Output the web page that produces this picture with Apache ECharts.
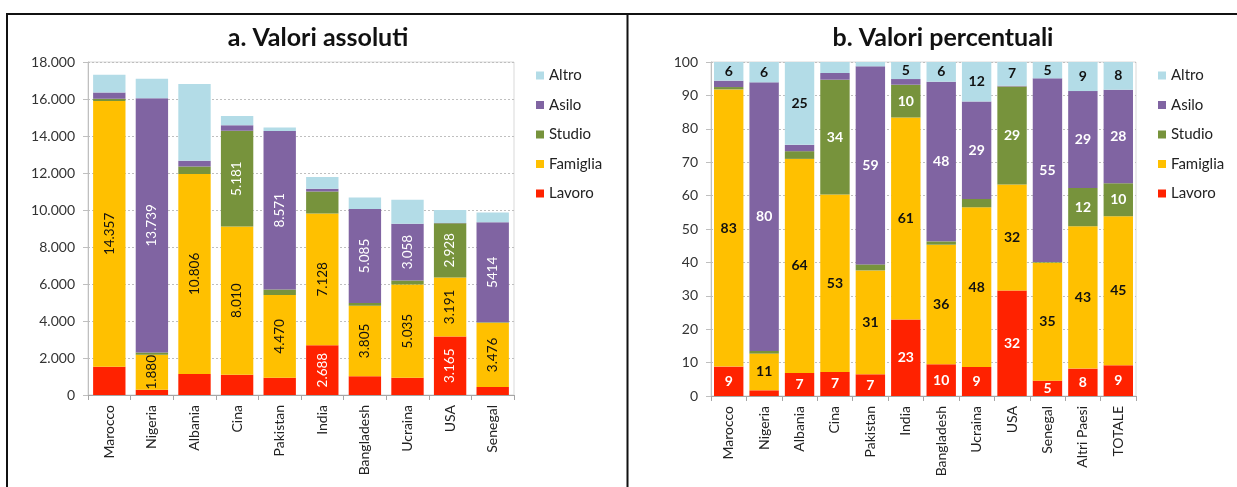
<!DOCTYPE html>
<html lang="it" style="height: 100%">
<head>
  <meta charset="UTF-8" />
  <title>Motivi del permesso</title>
  <script src="https://cdn.jsdelivr.net/npm/echarts@6/dist/echarts.min.js"></script>
</head>
<body style="height: 100%; margin: 0; background: #fff">
  <div id="main" style="width: 1237px; height: 487px"></div>
  <script type="text/javascript">
    // a. valori assoluti
    var catsA = ['Marocco', 'Nigeria', 'Albania', 'Cina', 'Pakistan', 'India', 'Bangladesh', 'Ucraina', 'USA', 'Senegal'];
    var lavoroA = [1530, 290, 1140, 1095, 930, 2688, 1020, 935, 3165, 430];
    var famigliaA = [14357, 1880, 10806, 8010, 4470, 7128, 3805, 5035, 3191, 3476];
    var studioA = [130, 130, 400, 5181, 300, 1187, 145, 225, 2928, 20];
    var asiloA = [330, 13739, 320, 290, 8571, 145, 5085, 3058, 20, 5414];
    var altroA = [960, 1060, 4140, 500, 190, 630, 620, 1300, 700, 520];
    // etichette come nel grafico originale
    var lblLavoroA = ['', '', '', '', '', '2.688', '', '', '3.165', ''];
    var lblFamigliaA = ['14.357', '1.880', '10.806', '8.010', '4.470', '7.128', '3.805', '5.035', '3.191', '3.476'];
    var lblStudioA = ['', '', '', '5.181', '', '', '', '', '2.928', ''];
    var lblAsiloA = ['', '13.739', '', '', '8.571', '', '5.085', '3.058', '', '5414'];
    var lblAltroA = ['', '', '', '', '', '', '', '', '', ''];

    // b. valori percentuali
    var catsB = ['Marocco', 'Nigeria', 'Albania', 'Cina', 'Pakistan', 'India', 'Bangladesh', 'Ucraina', 'USA', 'Senegal', 'Altri Paesi', 'TOTALE'];
    var lavoroB = [8.8, 1.7, 6.9, 7.2, 6.5, 22.9, 9.5, 8.7, 31.6, 4.6, 8.2, 9.2];
    var famigliaB = [83.0, 11.0, 64.1, 53.1, 31.1, 60.5, 35.8, 47.8, 31.7, 35.3, 42.6, 44.6];
    var studioB = [0.7, 0.8, 2.3, 34.4, 1.8, 9.8, 1.0, 2.5, 29.4, 0.2, 11.5, 9.9];
    var asiloB = [1.9, 80.4, 1.9, 2.0, 59.3, 1.7, 47.8, 29.2, 0.2, 55.0, 29.0, 28.0];
    var altroB = [5.6, 6.1, 24.8, 3.3, 1.3, 5.1, 5.9, 11.8, 7.1, 4.9, 8.7, 8.3];

    var names = ['Lavoro', 'Famiglia', 'Studio', 'Asilo', 'Altro'];
    var colors = ['#FF2200', '#FFC000', '#77933C', '#8064A2', '#B3DCE7'];
    var lblColors = ['#fff', '#111', '#fff', '#fff', '#111'];
    var font = 'Lato, "Open Sans", sans-serif';

    var myChart = echarts.init(document.getElementById('main'));

    function thousands(v) {
      return String(v).replace(/\B(?=(\d{3})+(?!\d))/g, '.');
    }

    function xAxisCfg(cats, idx) {
      return {
        type: 'category', gridIndex: idx, data: cats,
        axisLine: { lineStyle: { color: '#A6A6A6' } },
        axisTick: { show: true, length: 5, lineStyle: { color: '#A6A6A6' } },
        axisLabel: { rotate: 90, margin: 10, fontSize: 14, color: '#222', fontFamily: font }
      };
    }
    function yAxisCfg(idx, max, interval, fmt) {
      return {
        type: 'value', gridIndex: idx, min: 0, max: max, interval: interval,
        axisLine: { show: true, lineStyle: { color: '#BFBFBF' } },
        axisTick: { show: true, length: 5, lineStyle: { color: '#BFBFBF' } },
        axisLabel: { margin: 13, fontSize: 14, color: '#333', fontFamily: font, formatter: fmt },
        splitLine: { lineStyle: { color: '#BFBFBF', type: [2, 2] } }
      };
    }

    var dataA = [lavoroA, famigliaA, studioA, asiloA, altroA];
    var lblA = [lblLavoroA, lblFamigliaA, lblStudioA, lblAsiloA, lblAltroA];
    var dataB = [lavoroB, famigliaB, studioB, asiloB, altroB];

    var series = [];
    names.forEach(function (n, i) {
      series.push({
        name: n, type: 'bar', stack: 'a', xAxisIndex: 0, yAxisIndex: 0,
        data: dataA[i], barCategoryGap: '24%',
        itemStyle: { color: colors[i] },
        label: {
          show: true, position: 'inside', rotate: 90, fontSize: 13.5, fontFamily: font,
          color: lblColors[i],
          formatter: function (p) { return lblA[i][p.dataIndex]; }
        }
      });
    });
    names.forEach(function (n, i) {
      series.push({
        name: n, type: 'bar', stack: 'b', xAxisIndex: 1, yAxisIndex: 1,
        data: dataB[i], barCategoryGap: '17%',
        itemStyle: { color: colors[i] },
        label: {
          show: true, position: 'inside', fontSize: 14, fontWeight: 'bold', fontFamily: font,
          color: lblColors[i],
          formatter: function (p) { return p.value >= 4 ? String(Math.round(p.value)) : ''; }
        }
      });
    });

    var legendNames = ['Altro', 'Asilo', 'Studio', 'Famiglia', 'Lavoro'];
    function legendCfg(left) {
      return {
        orient: 'vertical', left: left, top: 63, data: legendNames,
        icon: 'rect', itemWidth: 8, itemHeight: 8, itemGap: 14.5,
        textStyle: { fontSize: 15, lineHeight: 15, color: '#222', fontFamily: font }
      };
    }

    var option = {
      animation: false,
      title: [
        { text: 'a. Valori assoluti', left: 313, top: 20, textAlign: 'center',
          textStyle: { fontSize: 25, fontWeight: 'bold', color: '#111', fontFamily: font } },
        { text: 'b. Valori percentuali', left: 938, top: 20, textAlign: 'center',
          textStyle: { fontSize: 25, fontWeight: 'bold', color: '#111', fontFamily: font } }
      ],
      legend: [legendCfg(531), legendCfg(1153)],
      grid: [
        { left: 88, top: 62, width: 426, height: 333, show: true, borderColor: '#D9D9D9', borderWidth: 1 },
        { left: 711, top: 62, width: 425, height: 334, show: true, borderColor: '#D9D9D9', borderWidth: 1 }
      ],
      xAxis: [xAxisCfg(catsA, 0), xAxisCfg(catsB, 1)],
      yAxis: [
        yAxisCfg(0, 18000, 2000, function (v) { return thousands(v); }),
        yAxisCfg(1, 100, 10, null)
      ],
      series: series,
      graphic: [
        { type: 'line', shape: { x1: 6, y1: 14, x2: 1237, y2: 14 }, style: { stroke: '#111', lineWidth: 2 } },
        { type: 'line', shape: { x1: 7, y1: 13, x2: 7, y2: 487 }, style: { stroke: '#111', lineWidth: 2 } },
        { type: 'line', shape: { x1: 627.5, y1: 13, x2: 627.5, y2: 487 }, style: { stroke: '#111', lineWidth: 2 } }
      ]
    };

    myChart.setOption(option);
    window.addEventListener('resize', myChart.resize);
  </script>
</body>
</html>
